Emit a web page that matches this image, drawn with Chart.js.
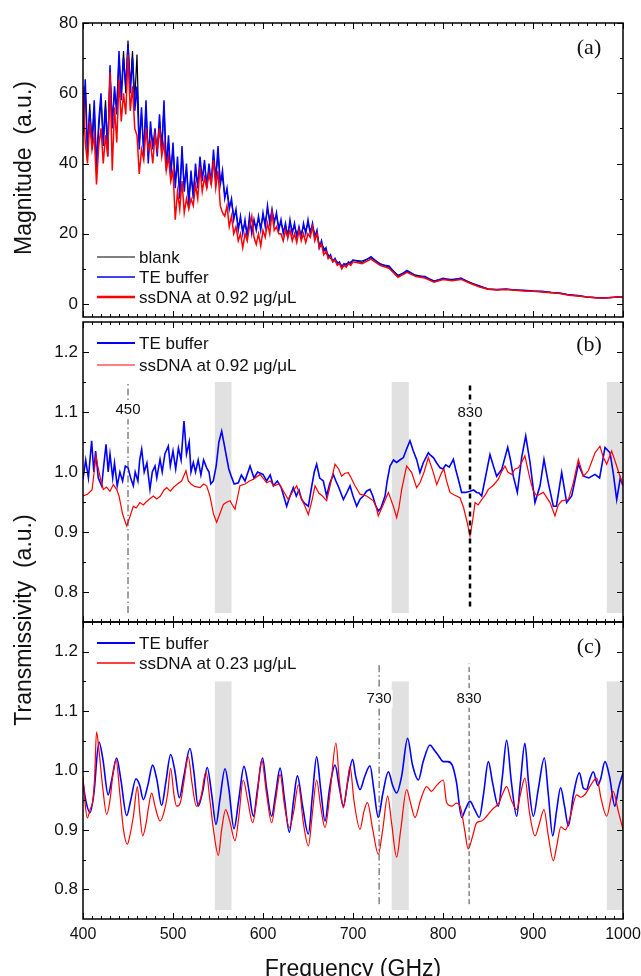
<!DOCTYPE html>
<html>
<head>
<meta charset="utf-8">
<script src="https://cdn.jsdelivr.net/npm/chart.js@4.4.1/dist/chart.umd.min.js"></script>
<style>
  html, body { margin: 0; padding: 0; background: #fff; }
  #wrap { position: relative; width: 641px; height: 976px; overflow: hidden; }
  #wrap canvas { position: absolute; left: 0; top: 0; }
</style>
</head>
<body>
<div id="wrap">
  <canvas id="chartA" width="641" height="976"></canvas>
  <canvas id="chartB" width="641" height="976"></canvas>
  <canvas id="chartC" width="641" height="976"></canvas>
</div>
<script>
// ---- data ----
const ticksX = [400, 500, 600, 700, 800, 900, 1000];
const ticksMag = [0, 20, 40, 60, 80];
const ticksTrans = [0.8, 0.9, 1.0, 1.1, 1.2];

// panel (a): magnitude, shared frequency grid (GHz)
const freqA = [
  400, 402.5, 405, 407.5, 410, 412.5, 415, 417.5,
  420, 422.5, 425, 427.5, 430, 432.5, 435, 437.5,
  440, 442.5, 445, 447.5, 450, 452.5, 455, 457.5,
  460, 462.5, 465, 467.5, 470, 472.5, 475, 477.5,
  480, 482.5, 485, 487.5, 490, 492.5, 495, 497.5,
  500, 502.5, 505, 507.5, 510, 512.5, 515, 517.5,
  520, 522.5, 525, 527.5, 530, 532.5, 535, 537.5,
  540, 542.5, 545, 547.5, 550, 552.5, 555, 557.5,
  560, 562.5, 565, 567.5, 570, 572.5, 575, 577.5,
  580, 582.5, 585, 587.5, 590, 592.5, 595, 597.5,
  600, 602.5, 605, 607.5, 610, 612.5, 615, 617.5,
  620, 622.5, 625, 627.5, 630, 632.5, 635, 637.5,
  640, 642.5, 645, 647.5, 650, 652.5, 655, 657.5,
  660, 662.5, 665, 667.5, 670, 672.5, 675, 677.5,
  680, 682.5, 685, 687.5, 690, 692.5, 695, 697.5,
  700, 710, 720, 730, 740, 750, 760, 770, 780, 790,
  800, 810, 820, 830, 840, 850, 860, 870, 880, 890,
  900, 910, 920, 930, 940, 950, 960, 970, 980, 990,
  1000
];
const blankA = [
  48, 62, 42, 57, 44, 56, 40, 50,
  58, 47, 58, 44, 66, 52, 60, 56,
  70, 60, 72, 60, 75, 62, 72, 58,
  71, 46, 54, 44, 56, 42, 50, 46,
  48, 44, 52, 45, 56, 40, 46, 38,
  44, 35, 40, 32, 43, 34, 38, 30,
  36, 32, 38, 34, 40, 36, 40, 34,
  38, 35, 42, 36, 43, 35, 36, 31,
  32, 28, 29, 25, 26, 22, 24, 21,
  23, 20, 24, 21, 23, 22, 24, 22,
  25, 23, 27, 24, 26, 24, 25, 22,
  23, 21, 22, 20, 23, 21, 22, 20,
  21, 20, 22, 21, 23, 21, 22, 20,
  20, 17, 17, 16, 15, 14, 13, 12.5,
  12.5, 12, 11.5, 11, 11, 11.5, 11.5, 12,
  12.5, 12.2, 13.2, 11.5, 10.5, 8.2, 9.2, 8.2, 7.6, 6.6,
  7.1, 7, 7.2, 6.2, 5.1, 4.3, 4.1, 4.2, 4, 3.8,
  3.7, 3.5, 3.3, 3, 2.6, 2.3, 2, 1.8, 1.8, 1.9,
  2.1
];
const teA = [
  50, 64, 44, 55, 46, 58, 38, 52,
  60, 45, 56, 42, 68, 50, 62, 54,
  72, 58, 70, 62, 74, 60, 70, 55,
  62, 44, 56, 42, 58, 40, 52, 44,
  50, 42, 54, 43, 58, 38, 48, 36,
  46, 33, 42, 30, 45, 32, 40, 28,
  38, 30, 40, 33, 42, 35, 41, 33,
  40, 34, 44, 35, 45, 34, 38, 30,
  33, 27, 30, 24, 27, 21, 25, 20,
  24, 19, 25, 20, 24, 21, 25, 21,
  26, 22, 28, 23, 27, 23, 26, 21,
  24, 20, 23, 19, 24, 20, 23, 19,
  22, 19, 23, 20, 24, 20, 23, 19,
  21, 16, 18, 15, 16, 13, 14, 12,
  13, 11.5, 12, 10.5, 11.5, 11, 12, 11.5,
  12.5, 11.8, 13.5, 11.2, 10.8, 7.8, 9.6, 8.0, 7.8, 6.4,
  7.3, 6.8, 7.4, 6.0, 5.2, 4.2, 4.1, 4.3, 4.0, 3.9,
  3.7, 3.6, 3.3, 3.1, 2.6, 2.4, 2.0, 1.8, 1.7, 1.9,
  2.1
];
const dnaA = [
  62, 46, 40, 52, 44, 48, 34, 45,
  50, 40, 48, 42, 66, 38, 56, 46,
  64, 52, 60, 54, 71, 55, 62, 50,
  48, 37, 44, 41, 50, 44, 46, 40,
  48, 44, 50, 42, 46, 38, 42, 35,
  38, 24, 32, 27, 35, 26, 30, 27,
  30, 28, 34, 30, 39, 32, 36, 33,
  37, 34, 41, 33, 38, 28, 26, 25,
  28, 22, 25, 20, 22, 18, 20, 16,
  20, 18, 22, 25, 19, 17, 20, 16.5,
  21, 19, 23, 20, 26, 21, 22, 20,
  20, 18, 21, 19, 21, 18, 20, 17.5,
  21, 18, 20, 17.5, 20, 19, 22, 18,
  20, 16, 17, 14, 15, 13, 13.5, 12,
  12.5, 11, 11.5, 10, 11, 10.5, 11.5, 11,
  12, 11.5, 12.8, 11, 10.2, 7.6, 9, 7.8, 7.4, 6.2,
  7, 6.6, 7, 5.9, 4.9, 4.2, 4, 4.1, 3.9, 3.7,
  3.6, 3.4, 3.2, 3, 2.5, 2.3, 2, 1.8, 1.7, 1.9,
  2.1
];

// panel (b): [frequency GHz, transmissivity]
const bTe = [
  [400,0.988],[403,1.02],[406,0.99],[409.6,1.052],[412,1.0],[414,1.035],[417,0.99],[420.7,0.977],
  [423,1.01],[425.6,1.046],[428,1.0],[430,1.03],[433,0.99],[435,1.015],[438,0.977],[441,1.0],
  [444,0.985],[447,1.01],[450,1.007],[453,0.99],[455.9,0.977],[458,1.0],[461,0.985],[463,1.02],
  [465.2,1.038],[468,1.0],[471,1.015],[474.4,0.971],[477,1.0],[480,1.01],[482,0.99],[485.6,1.021],
  [488,1.0],[491,1.03],[494.8,1.043],[497,1.01],[500,1.035],[503,1.005],[506,1.04],[509,1.02],
  [512.2,1.085],[515,1.03],[518,1.05],[520,1.0],[522.6,1.016],[525,1.0],[528,1.02],[531,0.995],
  [534,1.02],[537.4,1.007],[540,1.0],[542,0.98],[544.8,0.985],[548,1.01],[551,1.05],[554.1,1.068],
  [557,1.045],[559.6,1.024],[562,1.005],[565.2,0.991],[568,0.98],[572.6,0.982],[576,0.995],[580,0.985],
  [585.6,1.01],[590,0.99],[594,1.0],[600,0.996],[604,0.985],[608,0.995],[611.5,0.977],[616,0.985],
  [620,0.975],[623,0.96],[626.3,0.943],[630,0.96],[633.7,0.974],[637,0.96],[640,0.97],[643,0.954],
  [646,0.948],[650.4,0.943],[654,0.975],[657,1.0],[659.6,1.013],[663,0.99],[667,0.985],[670.7,0.96],
  [674,0.98],[678.1,0.996],[681,0.985],[684,0.975],[689.3,0.954],[693,0.965],[696.7,0.977],[700,0.96],
  [704.1,0.943],[708,0.955],[711.5,0.96],[715,0.968],[718.9,0.971],[722,0.96],[725,0.945],[728.1,0.935],
  [731,0.94],[735.6,0.96],[738,0.985],[741.1,1.01],[745,1.02],[748.5,1.016],[752,1.02],[756,1.024],
  [760,1.04],[763.3,1.052],[767,1.035],[770.7,1.021],[774.4,0.999],[778,1.015],[783.7,1.032],[786,1.028],
  [789.3,1.024],[793,1.015],[796.7,1.007],[800,1.005],[803,1.012],[807,1.008],[811.5,1.021],[814,1.005],
  [817,0.988],[820.7,0.966],[825,0.966],[830,0.968],[834,0.97],[837.4,0.966],[840,0.965],[843,0.96],
  [847,0.99],[852.2,1.029],[856,1.01],[859.6,0.993],[865.2,1.004],[871.9,1.041],[875,1.02],[878.1,0.993],
  [882.6,0.966],[887.4,1.024],[891.9,1.06],[896.7,1.016],[902.2,0.949],[907.8,0.977],[912.2,1.021],[917,0.982],
  [922.6,0.943],[926,0.943],[931.9,0.999],[937.4,0.949],[943,0.96],[950.4,1.013],[956,0.993],[962,0.99],
  [968.9,0.996],[974,0.99],[980,1.041],[985.6,1.032],[989,1.0],[993,0.954],[997,0.99],[1000,0.977]
];
const bDna = [
  [400,0.96],[405,0.963],[410,0.97],[412,0.995],[414.4,1.027],[417,1.005],[420,0.985],[422.6,0.971],
  [426,0.975],[430,0.968],[433.7,0.979],[437.4,0.971],[440,0.96],[444,0.93],[448.5,0.91],[452,0.925],
  [455.9,0.943],[459,0.94],[463.3,0.949],[467,0.945],[470,0.95],[474,0.955],[478.1,0.96],[482,0.955],
  [486,0.96],[490,0.97],[493,0.974],[497,0.968],[501,0.975],[505,0.98],[509.6,0.985],[514.4,1.002],
  [517,0.985],[520,0.98],[524,0.976],[530,0.974],[534,0.98],[537.4,0.977],[541,0.96],[545,0.93],
  [548.5,0.916],[552,0.93],[556,0.946],[560,0.95],[563.3,0.952],[566,0.945],[568.9,0.938],[572,0.96],
  [574.4,0.977],[580,0.98],[585,0.985],[589.3,0.988],[596.7,0.996],[600,0.99],[604,0.982],[608,0.985],
  [612,0.977],[618,0.98],[622,0.97],[628,0.954],[632,0.965],[637.4,0.977],[641,0.962],[644.8,0.949],
  [650.4,0.929],[654,0.95],[657.8,0.977],[662,0.965],[666,0.96],[670.7,0.952],[675,0.98],[680,1.013],
  [684,1.005],[687.4,0.993],[691,0.998],[694.8,0.999],[698,0.99],[702.2,0.977],[707.8,0.963],[715.2,0.96],
  [722.6,0.952],[726,0.94],[728.1,0.927],[733.7,0.946],[739.3,0.966],[744.8,0.943],[748.5,0.924],[751,0.94],
  [754.1,0.971],[759.6,1.01],[765.2,0.999],[770.7,0.974],[774.4,0.982],[779,1.0],[783.7,1.024],[789.3,0.999],
  [793,0.979],[798.5,0.999],[801,1.005],[804,0.985],[807.8,0.966],[812,0.962],[818.9,0.957],[823,0.94],
  [827,0.915],[830,0.893],[833,0.92],[835.6,0.949],[839,0.945],[843,0.954],[847,0.962],[850.4,0.971],
  [856,0.978],[861.5,0.988],[865,1.0],[868.9,1.01],[872,1.0],[876.3,0.996],[880,1.005],[883.7,1.007],
  [887,1.015],[891,1.027],[896.7,0.988],[900,0.97],[904.1,0.96],[911.5,0.966],[918.9,0.949],[924.4,0.927],
  [928,0.945],[932,0.952],[939.3,0.954],[944.8,0.982],[950.4,1.021],[956,0.993],[961.5,1.002],[968.9,1.032],
  [974.4,1.043],[978,1.025],[981.9,1.013],[987.4,1.035],[993,1.01],[1000,0.977]
];

// panel (c): [frequency GHz, transmissivity]
const cTe = [
  [400,0.98],[403,0.95],[407.8,0.929],[412,0.96],[417.8,1.048],[422,1.02],[428,0.959],[432,0.985],
  [437.4,1.021],[442,0.985],[448.5,0.924],[453,0.95],[458.9,0.986],[463,0.975],[467,0.951],[472,0.975],
  [477.4,1.009],[482,0.985],[487.4,0.941],[492,0.98],[497.4,1.027],[502,1.0],[507,0.954],[512,0.99],
  [518.9,1.037],[523,1.0],[528,0.94],[533,0.965],[538,1.005],[543,0.96],[547.8,0.909],[552,0.95],
  [557.8,1.003],[562,0.97],[567.8,0.902],[573,0.95],[578.9,1.007],[584,0.97],[589.3,0.923],[594,0.97],
  [599.5,1.021],[604,0.97],[609.6,0.923],[614,0.96],[619,1.004],[624,0.95],[629.3,0.896],[634,0.95],
  [638.2,0.991],[644,0.94],[650.4,0.893],[655,0.96],[659.6,1.023],[664,0.97],[668.9,0.915],[674,0.97],
  [680,1.009],[685,0.97],[689.3,0.94],[694,0.98],[699.6,1.019],[703,0.99],[707.8,0.968],[713,0.99],
  [718.9,1.008],[723,0.97],[728.1,0.921],[733,0.96],[739.3,0.998],[744,0.975],[748.5,0.962],[754,0.99],
  [760.7,1.054],[766,1.01],[772.6,0.984],[778,1.015],[785.6,1.043],[790,1.035],[795,1.025],[800.4,1.015],
  [805,1.015],[810,1.01],[815,0.98],[820.7,0.921],[825,0.935],[830,0.948],[835,0.935],[840.4,0.921],
  [845,0.96],[850.4,1.015],[855,0.98],[861.5,0.94],[866,0.99],[870.7,1.051],[876,0.98],[881.9,0.923],
  [886,0.98],[891,1.046],[895,0.98],[900.4,0.923],[906,0.97],[912.6,1.021],[917,0.96],[921.9,0.89],
  [926,0.93],[930.7,0.971],[935,0.94],[939.3,0.907],[945,0.96],[951.5,0.996],[956,0.97],[959.6,0.968],
  [963,0.985],[967,0.998],[972,0.975],[975,0.985],[980,1.015],[985,0.99],[991,0.94],[995,0.97],
  [1000,0.996]
];
const cDna = [
  [400,0.99],[402,0.95],[404.8,0.92],[408,0.935],[411,0.95],[413,0.99],[415,1.065],[418,1.03],
  [422,0.97],[426.3,0.926],[430,0.95],[433,0.99],[436.7,1.018],[441,0.96],[445,0.9],[449.3,0.876],
  [452,0.89],[456,0.923],[460.4,0.973],[463,0.93],[466.3,0.89],[470,0.91],[473,0.94],[476.3,0.962],
  [480,0.94],[485.6,0.915],[490,0.93],[494,0.96],[497.4,1.004],[501,0.96],[504,0.94],[508,0.945],
  [512,0.98],[517,1.023],[521,0.98],[526,0.94],[531,0.955],[536.7,0.998],[541,0.95],[545,0.9],
  [550.4,0.857],[554,0.9],[558.5,0.934],[563,0.915],[568.9,0.882],[573,0.92],[578,0.984],[583,0.95],
  [588.5,0.912],[593,0.95],[598.5,1.018],[604,0.96],[609.6,0.912],[614,0.95],[619,0.993],[624,0.94],
  [629.3,0.904],[634,0.93],[639.3,0.976],[645,0.91],[650.4,0.873],[655,0.93],[659.6,0.984],[664,0.94],
  [668.9,0.904],[675,0.97],[681,1.046],[685,0.98],[689.3,0.937],[693,0.97],[696.7,1.007],[701,0.95],
  [707.8,0.901],[712,0.93],[716,0.946],[722,0.9],[728.1,0.859],[733,0.9],[738.5,0.957],[743,0.91],
  [748.5,0.854],[753,0.9],[759.6,0.968],[764,0.945],[768.9,0.921],[775,0.95],[781.8,0.973],[787,0.965],
  [793,0.975],[800.4,0.984],[804,0.946],[810,0.94],[815,0.945],[820,0.935],[824,0.9],[828,0.868],
  [833,0.89],[837.4,0.912],[843,0.915],[848.5,0.923],[855,0.935],[862,0.945],[866,0.96],[870.7,0.973],
  [876,0.95],[881.9,0.934],[886,0.96],[891,0.987],[896,0.93],[902.2,0.89],[907,0.91],[912.2,0.934],
  [917,0.89],[922.6,0.848],[926,0.87],[931,0.905],[936,0.9],[941,0.92],[948.5,0.959],[953,0.955],
  [958,0.96],[964,0.975],[970.7,0.987],[976,0.95],[981.9,0.923],[989,0.965],[995,0.93],[1000,0.901]
];

// shaded bands (GHz) and transmissivity extent, same in (b) and (c)
const bands = [[546.5, 565], [743, 762], [982, 1000]];
const bandSpan = [0.765, 1.15];
// vertical markers: frequency, bottom, top, label level
const markersB = [{ f: 450, lo: 0.765, hi: 1.15, at: 1.103, text: '450' },
                  { f: 830, lo: 0.776, hi: 1.148, at: 1.098, text: '830' }];
const markersC = [{ f: 729, lo: 0.775, hi: 1.18, at: 1.121, text: '730' },
                  { f: 829, lo: 0.775, hi: 1.18, at: 1.121, text: '830' }];

// ---- drawing ----
const SANS = "'Liberation Sans', Arial, sans-serif";
const SERIF = "'Liberation Serif', 'Times New Roman', serif";
const BLUE = '#0000ff', RED = '#ff0000';

const pts = (xs, ys) => xs.map((f, i) => ({ x: f, y: ys[i] }));
const pairs = arr => arr.map(([f, v]) => ({ x: f, y: v }));

const panelDecor = {
  id: 'panelDecor',
  beforeDatasetsDraw(chart, args, opts) {
    if (!opts.bands) return;
    const { ctx, scales: { x, y } } = chart;
    ctx.save();
    ctx.fillStyle = '#e1e1e1';
    const y0 = y.getPixelForValue(bandSpan[1]), y1 = y.getPixelForValue(bandSpan[0]);
    opts.bands.forEach(([f0, f1]) => {
      const x0 = x.getPixelForValue(f0), x1 = x.getPixelForValue(f1);
      ctx.fillRect(x0, y0, x1 - x0, y1 - y0);
    });
    ctx.restore();
  },
  afterDraw(chart, args, opts) {
    const { ctx, chartArea: a, scales: { x, y } } = chart;
    ctx.save();
    const seg = (x0, y0, x1, y1) => { ctx.beginPath(); ctx.moveTo(x0, y0); ctx.lineTo(x1, y1); ctx.stroke(); };

    // inward ticks on all four sides
    ctx.strokeStyle = '#000';
    ctx.lineWidth = 1;
    for (let i = 0; i <= 60; i++) {
      const px = Math.round(x.getPixelForValue(400 + i * 10)) + 0.5;
      const len = i % 10 === 0 ? 6 : 3;
      seg(px, a.top, px, a.top + len);
      seg(px, a.bottom, px, a.bottom - len);
    }
    const n = Math.round((opts.yTo - opts.yFrom) / opts.yMinor);
    for (let i = 0; i <= n; i++) {
      const py = Math.round(y.getPixelForValue(opts.yFrom + i * opts.yMinor)) + 0.5;
      const len = i % 2 === 0 ? 6 : 3;
      seg(a.left, py, a.left + len, py);
      seg(a.right, py, a.right - len, py);
    }
    ctx.lineWidth = 1.5;
    ctx.strokeRect(a.left, a.top, a.right - a.left, a.bottom - a.top);

    // marker labels, on a white patch that breaks the marker line
    ctx.font = '15px ' + SANS;
    ctx.textAlign = 'center';
    ctx.textBaseline = 'middle';
    (opts.markers || []).forEach(m => {
      const mx = x.getPixelForValue(m.f), my = y.getPixelForValue(m.at);
      const w = ctx.measureText(m.text).width;
      ctx.fillStyle = '#fff';
      ctx.fillRect(mx - w / 2 - 1, my - 9, w + 2, 18);
      ctx.fillStyle = '#111';
      ctx.fillText(m.text, mx, my);
    });

    // legend
    ctx.font = '17px ' + SANS;
    ctx.textAlign = 'left';
    chart.data.datasets.filter(d => d.legendText)
      .sort((p, q) => p.legendRank - q.legendRank)
      .forEach((d, i) => {
        const ly = a.top + opts.legendTop + i * opts.legendGap;
        ctx.strokeStyle = d.borderColor;
        ctx.lineWidth = d.legendWidth;
        seg(a.left + 14, ly, a.left + 52, ly);
        ctx.fillStyle = '#111';
        ctx.fillText(d.legendText, a.left + 56, ly + 1);
      });

    // panel letter
    ctx.fillStyle = '#111';
    ctx.font = '22px ' + SERIF;
    ctx.textAlign = 'center';
    ctx.fillText(opts.letter, a.right - 34, a.top + opts.letterTop);

    // axis titles
    ctx.font = '23px ' + SANS;
    if (opts.yTitle) {
      ctx.save();
      ctx.translate(25, opts.yTitleY);
      ctx.rotate(-Math.PI / 2);
      ctx.fillText(opts.yTitle, 0, 0);
      ctx.restore();
    }
    if (opts.xTitle) {
      ctx.textBaseline = 'alphabetic';
      ctx.fillText(opts.xTitle, (a.left + a.right) / 2, 976);
    }
    ctx.restore();
  }
};

const noGrid = { display: false, drawTicks: false };
const yScale = (min, max, ticks, fmt) => ({
  type: 'linear', min, max,
  afterFit: s => { s.width = 83; },
  afterBuildTicks: s => { s.ticks = ticks.map(v => ({ value: v })); },
  grid: noGrid, border: { display: false },
  ticks: { font: { family: SANS, size: 17 }, color: '#111', padding: 5, callback: fmt }
});
const xHidden = { type: 'linear', min: 400, max: 1000, display: false };

const lineSet = (data, color, width, extra) => Object.assign({
  data, borderColor: color, backgroundColor: color, borderWidth: width,
  pointRadius: 0, tension: 0, fill: false
}, extra || {});
const markerSet = (m, color, width, dash) => ({
  data: [{ x: m.f, y: m.lo }, { x: m.f, y: m.hi }],
  borderColor: color, borderWidth: width, borderDash: dash, pointRadius: 0, order: -1
});

const baseOpts = (padding, scales, decor) => ({
  responsive: false, animation: false, devicePixelRatio: 1,
  layout: { padding, autoPadding: false },
  plugins: { legend: { display: false }, tooltip: { enabled: false }, panelDecor: decor },
  scales
});

new Chart(document.getElementById('chartA'), {
  type: 'line',
  data: { datasets: [
    lineSet(pts(freqA, dnaA), RED, 1.5, { order: 0, legendRank: 3, legendWidth: 2.6, legendText: 'ssDNA at 0.92 \u03bcg/\u03bcL' }),
    lineSet(pts(freqA, teA), BLUE, 1.5, { order: 1, legendRank: 2, legendWidth: 1.3, legendText: 'TE buffer' }),
    lineSet(pts(freqA, blankA), '#000', 1.2, { order: 2, legendRank: 1, legendWidth: 1, legendText: 'blank' })
  ] },
  options: baseOpts({ top: 23, right: 18, bottom: 659, left: 0 }, {
    x: xHidden,
    y: yScale(-3.7, 80, ticksMag, v => String(v))
  }, {
    yFrom: 0, yTo: 80, yMinor: 10, letter: '(a)', letterTop: 25,
    legendTop: 234, legendGap: 20,
    yTitle: 'Magnitude  (a.u.)', yTitleY: 168
  }),
  plugins: [panelDecor]
});

new Chart(document.getElementById('chartB'), {
  type: 'line',
  data: { datasets: [
    lineSet(pairs(bTe), BLUE, 1.6, { order: 1, legendRank: 1, legendText: 'TE buffer', legendWidth: 2 }),
    lineSet(pairs(bDna), RED, 1.2, { order: 0, legendRank: 2, legendText: 'ssDNA at 0.92 \u03bcg/\u03bcL', legendWidth: 1 }),
    markerSet(markersB[0], '#444', 1, [7, 3, 1.5, 3]),
    markerSet(markersB[1], '#000', 2.5, [5, 4])
  ] },
  options: baseOpts({ top: 322, right: 18, bottom: 354, left: 0 }, {
    x: xHidden,
    y: yScale(0.75, 1.25, ticksTrans, v => v.toFixed(1))
  }, {
    yFrom: 0.8, yTo: 1.2, yMinor: 0.05, letter: '(b)', letterTop: 23,
    legendTop: 21, legendGap: 22, bands, markers: markersB,
    yTitle: 'Transmissivity  (a.u.)', yTitleY: 620
  }),
  plugins: [panelDecor]
});

new Chart(document.getElementById('chartC'), {
  type: 'line',
  data: { datasets: [
    lineSet(pairs(cTe), BLUE, 1.6, { order: 1, legendRank: 1, cubicInterpolationMode: 'monotone', legendText: 'TE buffer', legendWidth: 2 }),
    lineSet(pairs(cDna), RED, 1.2, { order: 0, legendRank: 2, cubicInterpolationMode: 'monotone', legendText: 'ssDNA at 0.23 \u03bcg/\u03bcL', legendWidth: 1.5 }),
    markerSet(markersC[0], '#444', 1, [7, 3, 1.5, 3]),
    markerSet(markersC[1], '#444', 1, [5, 3])
  ] },
  options: baseOpts({ top: 622, right: 18, bottom: 0, left: 0 }, {
    x: {
      type: 'linear', min: 400, max: 1000,
      afterFit: s => { s.height = 57; },
      afterBuildTicks: s => { s.ticks = ticksX.map(v => ({ value: v })); },
      grid: noGrid, border: { display: false },
      // padding 0 keeps the last label from widening the right margin; lineHeight sets the gap
      ticks: { font: { family: SANS, size: 16, lineHeight: 2 }, color: '#111', padding: 0,
               maxRotation: 0, autoSkip: false, callback: v => String(v) }
    },
    y: yScale(0.75, 1.25, ticksTrans, v => v.toFixed(1))
  }, {
    yFrom: 0.8, yTo: 1.2, yMinor: 0.05, letter: '(c)', letterTop: 25,
    legendTop: 21, legendGap: 20, bands, markers: markersC,
    xTitle: 'Frequency (GHz)'
  }),
  plugins: [panelDecor]
});
</script>
</body>
</html>
